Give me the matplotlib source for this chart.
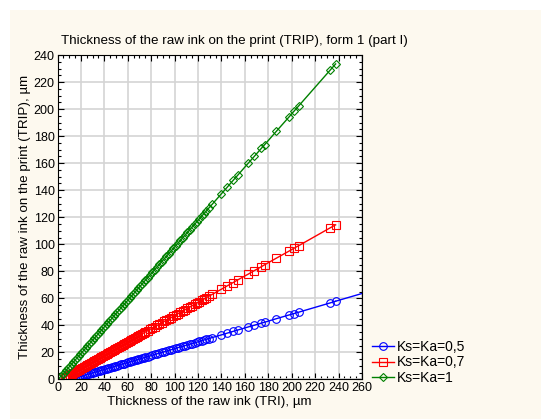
import matplotlib
matplotlib.use("Agg")
import matplotlib.pyplot as plt
from matplotlib.patches import Rectangle
from matplotlib.ticker import MultipleLocator

plt.rcParams['font.family'] = ['Liberation Sans', 'DejaVu Sans']

# ---- data: TRI (x) vs TRIP (y), um ----
# Ks=Ka=1
x_10 = [1.5, 3, 4.5, 6, 7.5, 9, 10.5, 12, 13.5, 15,
        16.5, 18, 19.5, 21, 22.5, 24, 25.5, 27, 28.5, 30,
        31.5, 33, 34.5, 36, 37.5, 39, 40.5, 42, 43.5, 45,
        46.5, 48, 49.5, 51, 52.5, 54, 55.5, 57, 58.5, 60,
        61.5, 63, 64.5, 66, 67.5, 69, 70.5, 72, 73.5, 75,
        77, 79, 81, 83, 85, 87, 89, 91, 93, 95,
        97, 99, 101, 103, 105, 107, 109, 111, 113, 115,
        117, 119, 121, 123, 125, 127, 129,
        132, 140, 145, 150, 154, 163, 168, 174, 177, 187,
        198, 202, 206, 232.7, 237.5]
y_10 = [1.0, 2.5, 3.9, 5.4, 6.9, 8.4, 9.8, 11.3, 12.8, 14.3,
        15.8, 17.2, 18.7, 20.2, 21.7, 23.1, 24.6, 26.1, 27.6, 29.1,
        30.5, 32.0, 33.5, 35.0, 36.4, 37.9, 39.4, 40.9, 42.3, 43.8,
        45.3, 46.8, 48.3, 49.7, 51.2, 52.7, 54.2, 55.6, 57.1, 58.6,
        60.1, 61.6, 63.0, 64.5, 66.0, 67.5, 68.9, 70.4, 71.9, 73.4,
        75.3, 77.3, 79.3, 81.3, 83.2, 85.2, 87.2, 89.1, 91.1, 93.1,
        95.0, 97.0, 99.0, 101.0, 102.9, 104.9, 106.9, 108.8, 110.8, 112.8,
        114.7, 116.7, 118.7, 120.7, 122.6, 124.6, 126.6,
        129.5, 137.4, 142.3, 147.3, 151.2, 160.1, 165.0, 170.9, 173.8, 183.7,
        194.5, 198.5, 202.4, 228.7, 233.4]

# Ks=Ka=0,7
x_07 = [6, 7.5, 9, 10.5, 12, 13.5, 15,
        16.5, 18, 19.5, 21, 22.5, 24, 25.5, 27, 28.5, 30,
        31.5, 33, 34.5, 36, 37.5, 39, 40.5, 42, 43.5, 45,
        46.5, 48, 49.5, 51, 52.5, 54, 55.5, 57, 58.5, 60,
        61.5, 63, 64.5, 66, 67.5, 69, 70.5, 72, 73.5, 75,
        77, 79, 81, 83, 85, 87, 89, 91, 93, 95,
        97, 99, 101, 103, 105, 107, 109, 111, 113, 115,
        117, 119, 121, 123, 125, 127, 129,
        132, 140, 145, 150, 154, 163, 168, 174, 177, 187,
        198, 202, 206, 232.7, 237.5]
y_07 = [1.4, 2.2, 2.9, 3.6, 4.4, 5.1, 5.8,
        6.6, 7.3, 8.0, 8.7, 9.5, 10.2, 10.9, 11.7, 12.4, 13.1,
        13.9, 14.6, 15.3, 16.1, 16.8, 17.5, 18.3, 19.0, 19.7, 20.5,
        21.2, 21.9, 22.7, 23.4, 24.1, 24.9, 25.6, 26.3, 27.0, 27.8,
        28.5, 29.2, 30.0, 30.7, 31.4, 32.2, 32.9, 33.6, 34.4, 35.1,
        36.1, 37.1, 38.0, 39.0, 40.0, 41.0, 41.9, 42.9, 43.9, 44.9,
        45.8, 46.8, 47.8, 48.8, 49.7, 50.7, 51.7, 52.7, 53.6, 54.6,
        55.6, 56.6, 57.5, 58.5, 59.5, 60.5, 61.5,
        62.9, 66.8, 69.3, 71.7, 73.7, 78.0, 80.5, 83.4, 84.9, 89.8,
        95.1, 97.1, 99.0, 112.1, 114.4]

# Ks=Ka=0,5
x_05 = [12, 13.5, 15,
        16.5, 18, 19.5, 21, 22.5, 24, 25.5, 27, 28.5, 30,
        31.5, 33, 34.5, 36, 37.5, 39, 40.5, 42, 43.5, 45,
        46.5, 48, 49.5, 51, 52.5, 54, 55.5, 57, 58.5, 60,
        61.5, 63, 64.5, 66, 67.5, 69, 70.5, 72, 73.5, 75,
        77, 79, 81, 83, 85, 87, 89, 91, 93, 95,
        97, 99, 101, 103, 105, 107, 109, 111, 113, 115,
        117, 119, 121, 123, 125, 127, 129,
        132, 140, 145, 150, 154, 163, 168, 174, 177, 187,
        198, 202, 206, 232.7, 237.5]
y_05 = [0.4, 0.7, 1.1,
        1.5, 1.9, 2.3, 2.7, 3.0, 3.4, 3.8, 4.2, 4.6, 5.0,
        5.3, 5.7, 6.1, 6.5, 6.9, 7.2, 7.6, 8.0, 8.4, 8.8,
        9.2, 9.5, 9.9, 10.3, 10.7, 11.1, 11.5, 11.8, 12.2, 12.6,
        13.0, 13.4, 13.7, 14.1, 14.5, 14.9, 15.3, 15.7, 16.0, 16.4,
        16.9, 17.4, 18.0, 18.5, 19.0, 19.5, 20.0, 20.5, 21.0, 21.5,
        22.0, 22.5, 23.1, 23.6, 24.1, 24.6, 25.1, 25.6, 26.1, 26.6,
        27.1, 27.6, 28.2, 28.7, 29.2, 29.7, 30.2,
        31.0, 33.0, 34.3, 35.6, 36.6, 38.9, 40.1, 41.7, 42.4, 45.0,
        47.8, 48.8, 49.8, 56.6, 57.9]

# fitted line for Ks=Ka=0,5 runs on to the end of the axis
fit_x_05 = [237.5, 260]
fit_y_05 = [57.9, 63.6]

labels = ["Ks=Ka=0,5", "Ks=Ka=0,7", "Ks=Ka=1"]

# ---- figure ----
fig = plt.figure(figsize=(5.41, 4.19), dpi=100)
fig.patch.set_facecolor("white")
fig.patches.append(Rectangle((10 / 541, 0), 1, 1 - 10 / 419,
                             transform=fig.transFigure, facecolor="#fdf9ef",
                             edgecolor="none", zorder=-10))

ax = fig.add_axes([0.1063, 0.0943, 0.5628, 0.7744])
ax.set_facecolor("white")

ax.plot(fit_x_05, fit_y_05, color="#0000ff", lw=1.0)
ax.plot(x_05, y_05, color="#0000ff", lw=1.0, marker="o", ms=5.5,
        mfc="none", mew=0.8, label=labels[0])
ax.plot(x_07, y_07, color="#ff0000", lw=1.0, marker="s", ms=6,
        mfc="none", mew=0.8, label=labels[1])
ax.plot(x_10, y_10, color="#008000", lw=1.0, marker="D", ms=4.2,
        mfc="none", mew=0.8, label=labels[2])

ax.set_xlim(0, 260)
ax.set_ylim(0, 240)
ax.xaxis.set_major_locator(MultipleLocator(20))
ax.yaxis.set_major_locator(MultipleLocator(20))
ax.xaxis.set_minor_locator(MultipleLocator(5))
ax.yaxis.set_minor_locator(MultipleLocator(5))
ax.tick_params(which="both", direction="in", top=True, right=True,
               labelsize=9, pad=2)
ax.tick_params(which="major", length=4, width=0.8)
ax.tick_params(which="minor", length=2, width=0.8)
ax.grid(True, which="major", color="#d4d4d4", lw=1.2)
ax.set_axisbelow(True)
for s in ax.spines.values():
    s.set_linewidth(0.8)

ax.set_xlabel("Thickness of the raw ink (TRI), µm", fontsize=9.6, labelpad=1)
ax.set_ylabel("Thickness of the raw ink on the print (TRIP), µm", fontsize=9.6,
              labelpad=2)
fig.text(61 / 541, 1 - 41 / 419,
         "Thickness of the raw ink on the print (TRIP), form 1 (part I)",
         fontsize=9.6, ha="left", va="center")

fig.legend(loc="upper left", bbox_to_anchor=(372 / 541, 1 - 340 / 419),
           frameon=False, fontsize=10, handlelength=1.6, handletextpad=0.2,
           labelspacing=0.1, borderaxespad=0, borderpad=0)

fig.savefig("out.png", dpi=100)
